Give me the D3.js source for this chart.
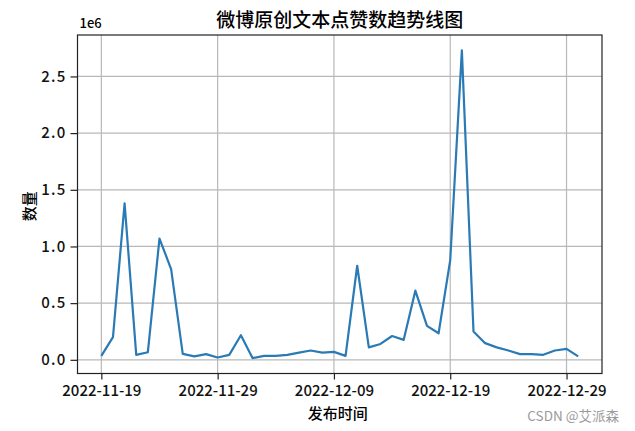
<!DOCTYPE html>
<html>
  <style>
    body { margin: 0; background: #fff; }
    .tick text { font-family: "Noto Sans CJK SC", sans-serif; font-size: 15px; fill: #111; font-weight: 500; }
    .cjk { font-family: "Noto Sans CJK SC", sans-serif; font-weight: 500; }
  </style>
  <body>
    <div id="chart"></div>
  </body>
  <script src="https://d3js.org/d3.v7.min.js"></script>
  <script>
    // Daily like counts, 2022-11-19 .. 2022-12-30
    const START_DATE = '2022-11-19';
    const LIKES = [
      35000, 200000, 1380000, 44000, 67000, 1070000, 800000, 53000, 30000, 50000,
      20000, 44000, 217000, 15000, 35000, 35000, 44000, 64000, 82000, 64000,
      70000, 35000, 830000, 110000, 140000, 210000, 176000, 610000, 300000, 234000,
      880000, 2730000, 250000, 147000, 110000, 82000, 50000, 50000, 44000, 82000,
      97000, 30000
    ];
    const X_TICKS = ['2022-11-19', '2022-11-29', '2022-12-09', '2022-12-19', '2022-12-29'];
    const Y_TICKS = [0, 500000, 1000000, 1500000, 2000000, 2500000];

    const W = 635, H = 431;
    const LEFT = 77.5, RIGHT = 602, TOP = 35, BOTTOM = 373.5;

    var parse = d3.timeParse('%Y-%m-%d');
    var start = parse(START_DATE);
    var data = LIKES.map(function (v, i) { return { date: d3.timeDay.offset(start, i), value: v }; });

    // matplotlib-like 5% margins
    var xExt = d3.extent(data, function (d) { return d.date; });
    var xPad = (xExt[1] - xExt[0]) * 0.05;
    var x = d3.scaleTime()
      .domain([new Date(+xExt[0] - xPad), new Date(+xExt[1] + xPad)])
      .range([LEFT, RIGHT]);

    var yExt = d3.extent(LIKES);
    var yPad = (yExt[1] - yExt[0]) * 0.05;
    var y = d3.scaleLinear().domain([yExt[0] - yPad, yExt[1] + yPad]).range([BOTTOM, TOP]);

    var svg = d3.select('#chart').append('svg').attr('width', W).attr('height', H);

    // grid
    var xTickDates = X_TICKS.map(parse);
    svg.append('g').selectAll('line').data(xTickDates).join('line')
      .attr('x1', function (d) { return x(d); }).attr('x2', function (d) { return x(d); })
      .attr('y1', TOP).attr('y2', BOTTOM)
      .attr('stroke', '#b8b8b8').attr('stroke-width', 1.2);
    svg.append('g').selectAll('line').data(Y_TICKS).join('line')
      .attr('x1', LEFT).attr('x2', RIGHT)
      .attr('y1', function (d) { return y(d); }).attr('y2', function (d) { return y(d); })
      .attr('stroke', '#b8b8b8').attr('stroke-width', 1.2);

    // line
    var line = d3.line().x(function (d) { return x(d.date); }).y(function (d) { return y(d.value); });
    svg.append('path').datum(data)
      .attr('d', line)
      .attr('fill', 'none')
      .attr('stroke', '#2a7ab5')
      .attr('stroke-width', 2.2)
      .attr('stroke-linejoin', 'round');

    // axes
    var xAxis = svg.append('g')
      .attr('transform', 'translate(0,' + BOTTOM + ')')
      .call(d3.axisBottom(x).tickValues(xTickDates).tickFormat(d3.timeFormat('%Y-%m-%d'))
        .tickSize(6).tickPadding(6));
    var yAxis = svg.append('g')
      .attr('transform', 'translate(' + LEFT + ',0)')
      .call(d3.axisLeft(y).tickValues(Y_TICKS).tickFormat(function (d) { return (d / 1e6).toFixed(1); })
        .tickSize(7).tickPadding(4));
    [xAxis, yAxis].forEach(function (a) {
      a.select('.domain').remove();
      a.selectAll('.tick line').attr('stroke', '#222').attr('stroke-width', 1.2);
    });
    yAxis.selectAll('.tick text').attr('letter-spacing', '1.2px');

    // frame
    svg.append('rect')
      .attr('x', LEFT).attr('y', TOP).attr('width', RIGHT - LEFT).attr('height', BOTTOM - TOP)
      .attr('fill', 'none').attr('stroke', '#222').attr('stroke-width', 1.2);

    // offset text
    svg.append('text').attr('class', 'cjk').attr('x', LEFT + 2).attr('y', 28)
      .style('font-size', '13px')
      .text('1e6');

    // title and labels
    svg.append('text').attr('class', 'cjk')
      .attr('x', (LEFT + RIGHT) / 2).attr('y', 27)
      .attr('text-anchor', 'middle').style('font-size', '19px')
      .text('微博原创文本点赞数趋势线图');
    svg.append('text').attr('class', 'cjk')
      .attr('x', (LEFT + RIGHT) / 2 - 2).attr('y', 419)
      .attr('text-anchor', 'middle').style('font-size', '15px')
      .text('发布时间');
    svg.append('text').attr('class', 'cjk')
      .attr('transform', 'translate(35,' + ((TOP + BOTTOM) / 2 + 2) + ') rotate(-90)')
      .attr('text-anchor', 'middle').style('font-size', '15px')
      .text('数量');

    // watermark
    svg.append('text').attr('class', 'cjk')
      .attr('x', 619).attr('y', 421)
      .attr('text-anchor', 'end').style('font-size', '13.5px').style('font-weight', 400).attr('fill', '#9a9a9a')
      .text('CSDN @艾派森');
  </script>
</html>
